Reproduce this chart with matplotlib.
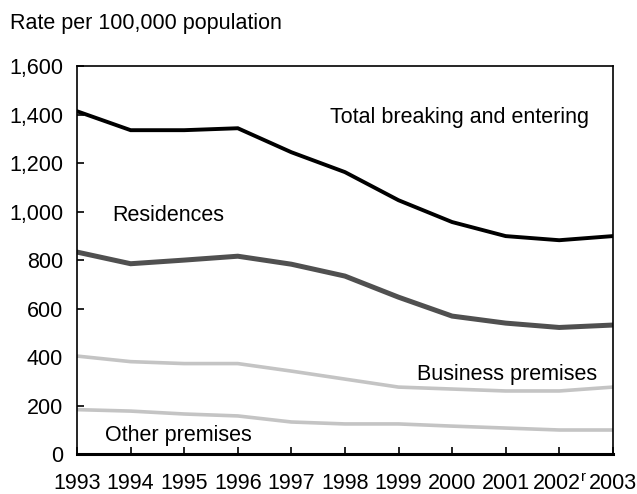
import matplotlib
matplotlib.use("Agg")
import matplotlib.pyplot as plt
from matplotlib.ticker import FuncFormatter

plt.rcParams['font.family'] = ['Liberation Sans', 'DejaVu Sans']

# данные
years = [1993, 1994, 1995, 1996, 1997, 1998, 1999, 2000, 2001, 2002, 2003]
year_labels = ['1993', '1994', '1995', '1996', '1997', '1998', '1999',
               '2000', '2001', '2002$^{\\mathregular{r}}$', '2003']
total = [1414, 1336, 1336, 1344, 1245, 1163, 1047, 957, 899, 882, 899]
residences = [833, 785, 800, 816, 783, 734, 647, 569, 540, 522, 532]
business = [404, 381, 373, 373, 342, 309, 276, 268, 260, 260, 276]
other = [183, 177, 165, 157, 132, 124, 124, 115, 107, 99, 99]

fs = 15.5

fig = plt.figure(figsize=(6.37, 4.94), dpi=100)
ax = fig.add_axes([0.121, 0.081, 0.841, 0.785])

ax.plot(years, other, color='#c4c4c4', lw=2.6, solid_joinstyle='miter')
ax.plot(years, business, color='#c4c4c4', lw=2.6, solid_joinstyle='miter')
ax.plot(years, residences, color='#505050', lw=3.6, solid_joinstyle='miter')
ax.plot(years, total, color='black', lw=2.8, solid_joinstyle='miter')

ax.set_xlim(1993, 2003)
ax.set_ylim(0, 1600)
ax.set_yticks(range(0, 1601, 200))
ax.yaxis.set_major_formatter(FuncFormatter(lambda v, p: f'{int(v):,}'))
ax.set_xticks(years)
ax.set_xticklabels(year_labels)

for s in ax.spines.values():
    s.set_linewidth(1.2)
ax.spines['bottom'].set_linewidth(2.2)
ax.tick_params(axis='both', direction='in', length=5, width=1.2,
               labelsize=fs, pad=10)
ax.tick_params(axis='x', pad=14)

# подписи серий
ax.text(1997.72, 1390, 'Total breaking and entering', fontsize=fs, va='center')
ax.text(1993.65, 982, 'Residences', fontsize=fs, va='center')
ax.text(1999.34, 326, 'Business premises', fontsize=fs, va='center')
ax.text(1993.52, 78, 'Other premises', fontsize=fs, va='center')

fig.text(10 / 637, 1 - 29 / 494, 'Rate per 100,000 population', fontsize=fs,
         va='baseline', ha='left')

fig.savefig('out.png', dpi=100)
